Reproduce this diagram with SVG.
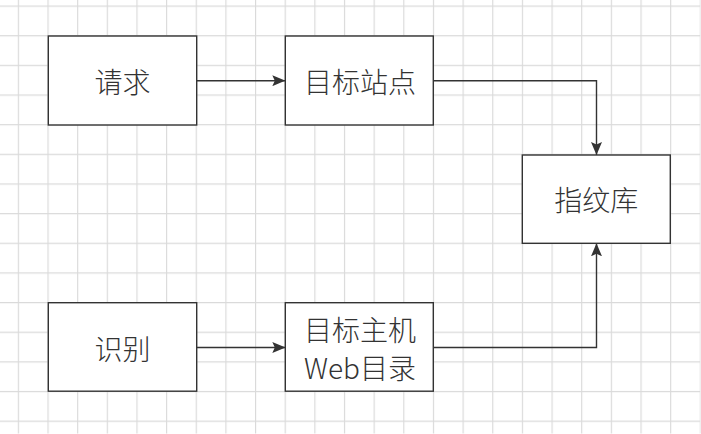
<svg xmlns="http://www.w3.org/2000/svg" width="701" height="434" viewBox="0 0 701 434">
<defs>
<pattern id="grid" patternUnits="userSpaceOnUse" x="18.3" y="6" width="29.65" height="29.65">
<path d="M0.5,0 V29.65 M0,0.5 H29.65" fill="none" stroke="#dadada" stroke-width="1.3"/>
</pattern>
<marker id="arr" viewBox="0 0 13 11" refX="13" refY="5.5" markerWidth="13" markerHeight="11" markerUnits="userSpaceOnUse" orient="auto">
<path d="M0,0 L13,5.5 L0,11 L2.5,5.5 z" fill="#333"/>
</marker>
<style>
.box{fill:#fff;stroke:#333;stroke-width:1.4}
.lbl{font-family:"Noto Sans CJK SC","Noto Sans",sans-serif;font-size:28px;font-weight:300;fill:#333;text-anchor:middle;dominant-baseline:central}
.edge{fill:none;stroke:#333;stroke-width:1.4;marker-end:url(#arr)}
</style>
</defs>
<rect x="0" y="0" width="701" height="434" fill="#fff"/>
<rect x="0" y="0" width="701" height="434" fill="url(#grid)" transform="translate(-0.5,-0.5)"/>
<g id="connectors">
<path class="edge" d="M196.7,80.7 H285.3"/>
<path class="edge" d="M433.3,80.7 H596.5 V155"/>
<path class="edge" d="M196.7,347.5 H285.3"/>
<path class="edge" d="M433.3,347.5 H596.5 V243.3"/>
</g>
<g id="node-qingqiu">
<rect class="box" x="48.3" y="36" width="148.4" height="89"/>
<text class="lbl" x="122.5" y="80.5">请求</text>
</g>
<g id="node-mubiaozhandian">
<rect class="box" x="285.3" y="36" width="148" height="89"/>
<text class="lbl" x="360" y="80.5">目标站点</text>
</g>
<g id="node-zhiwenku">
<rect class="box" x="522.3" y="155" width="148" height="88.3"/>
<text class="lbl" x="596.3" y="198.5">指纹库</text>
</g>
<g id="node-shibie">
<rect class="box" x="48.3" y="302.7" width="148.4" height="88.5"/>
<text class="lbl" x="122.5" y="347.5">识别</text>
</g>
<g id="node-mubiaozhuji">
<rect class="box" x="285.3" y="302.7" width="148" height="88.5"/>
<text class="lbl" x="360" y="329">目标主机</text>
<text class="lbl" x="360" y="367">Web目录</text>
</g>
</svg>
